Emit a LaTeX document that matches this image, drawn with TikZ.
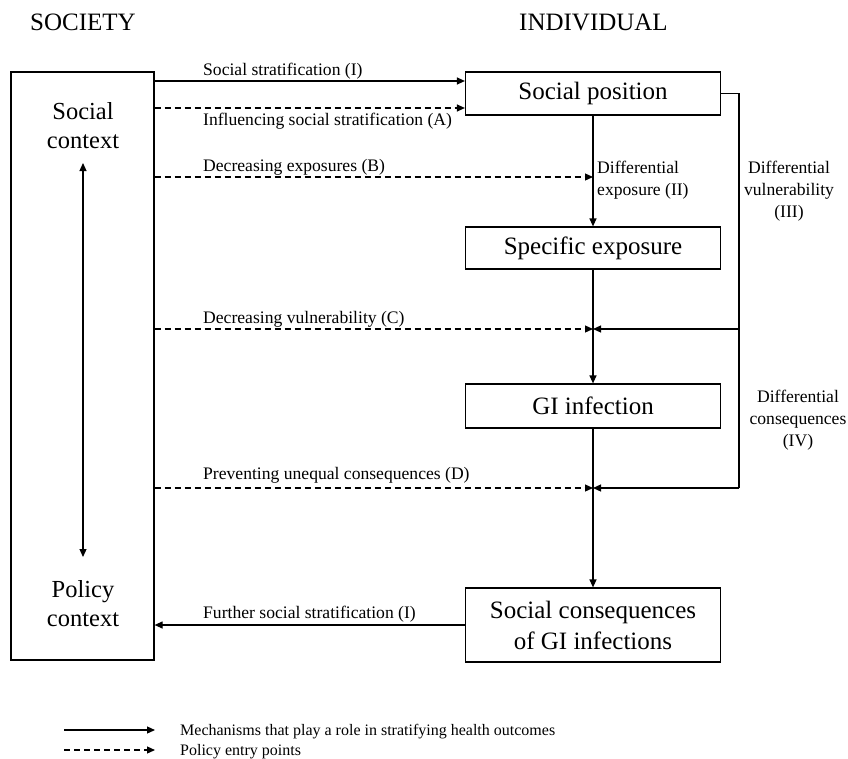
\documentclass[tikz,border=0pt]{standalone}
\usepackage{fontspec}
\setmainfont{Liberation Serif}
\usetikzlibrary{arrows.meta}

\tikzset{
  box/.style={draw, line width=1.2pt, inner sep=0pt, align=center,
    minimum width=255pt, font=\fontsize{25}{31}\selectfont},
  big/.style={inner sep=0pt, align=center, font=\fontsize{24.5}{29}\selectfont},
  head/.style={inner sep=0pt, font=\fontsize{25}{30}\selectfont},
  lbl/.style={inner sep=0pt, font=\fontsize{17.6}{21}\selectfont},
  leg/.style={inner sep=0pt, font=\fontsize{16}{19}\selectfont},
  mech/.style={line width=1.2pt, -{Triangle[length=8pt,width=7pt]}},
  pol/.style={line width=1.2pt, dash pattern=on 6pt off 4pt,
    -{Triangle[length=8pt,width=7pt]}},
  plain/.style={line width=1.2pt},
}

\begin{document}
\begin{tikzpicture}[x=1pt,y=-1pt]
  \useasboundingbox (0,0) rectangle (848,758);

  % column headings
  \node[head, anchor=base west] (hsoc) at (30,30) {SOCIETY};
  \node[head, anchor=base west] (hind) at (519,30) {INDIVIDUAL};

  % society column
  \node[draw, line width=1.2pt, minimum width=143pt, minimum height=588pt,
        inner sep=0pt] (socbox) at (82.5,366) {};
  \node[big] (sctx) at (83,126) {Social\\context};
  \node[big] (pctx) at (83,604) {Policy\\context};
  \coordinate (ctxtop) at (83,163);
  \coordinate (ctxbot) at (83,557);
  \draw[line width=1.2pt, {Triangle[length=8pt,width=7pt]}-{Triangle[length=8pt,width=7pt]}]
    (ctxtop) -- (ctxbot);

  % individual column
  \node[box, minimum height=43pt] (sp)  at (593,93.5) {Social position};
  \node[box, minimum height=42pt] (se)  at (593,248)  {Specific exposure};
  \node[box, minimum height=44pt] (gi)  at (593,406)  {GI infection};
  \node[box, minimum height=74pt] (scq) at (593,625)  {Social consequences\\of GI infections};

  \draw[mech] (sp) -- (se);
  \draw[mech] (se) -- (gi);
  \draw[mech] (gi) -- (scq);

  % junction points on the main chain
  \coordinate (j0) at (593,177);
  \coordinate (j1) at (593,329);
  \coordinate (j2) at (593,488);
  \coordinate (r1) at (739,329);
  \coordinate (r2) at (739,488);

  % vulnerability / consequences feedback
  \draw[plain] (sp.east) -| (r2);
  \draw[mech] (r1) -- (j1);
  \draw[mech] (r2) -- (j2);

  % society -> individual
  \draw[mech] (socbox.east |- 0,81) -- (sp.west |- 0,81);
  \draw[pol]  (socbox.east |- 0,108) -- (sp.west |- 0,108);
  \draw[pol]  (socbox.east |- j0) -- (j0);
  \draw[pol]  (socbox.east |- j1) -- (j1);
  \draw[pol]  (socbox.east |- j2) -- (j2);
  \draw[mech] (scq.west) -- (socbox.east |- scq.west);

  % arrow labels
  \node[lbl, anchor=base west] (la) at (203,75)  {Social stratification (I)};
  \node[lbl, anchor=base west] (lb) at (203,125) {Influencing social stratification (A)};
  \node[lbl, anchor=base west] (lc) at (203,171) {Decreasing exposures (B)};
  \node[lbl, anchor=base west] (ld) at (203,323) {Decreasing vulnerability (C)};
  \node[lbl, anchor=base west] (le) at (203,479) {Preventing unequal consequences (D)};
  \node[lbl, anchor=base west] (lf) at (203,618) {Further social stratification (I)};

  \node[lbl, anchor=base west] (dx1) at (597,173) {Differential};
  \node[lbl, anchor=base west] (dx2) at (597,195) {exposure (II)};

  \node[lbl, anchor=base] (dv1) at (789,173) {Differential};
  \node[lbl, anchor=base] (dv2) at (789,195) {vulnerability};
  \node[lbl, anchor=base] (dv3) at (789,217) {(III)};

  \node[lbl, anchor=base] (dc1) at (798,402) {Differential};
  \node[lbl, anchor=base] (dc2) at (798,424) {consequences};
  \node[lbl, anchor=base] (dc3) at (798,446) {(IV)};

  % legend
  \coordinate (m1) at (64,730);
  \coordinate (m2) at (155,730);
  \coordinate (p1) at (64,750);
  \coordinate (p2) at (155,750);
  \draw[mech] (m1) -- (m2);
  \draw[pol]  (p1) -- (p2);
  \node[leg, anchor=base west] (lm) at (180,735) {Mechanisms that play a role in stratifying health outcomes};
  \node[leg, anchor=base west] (lp) at (180,755) {Policy entry points};
\end{tikzpicture}
\end{document}
